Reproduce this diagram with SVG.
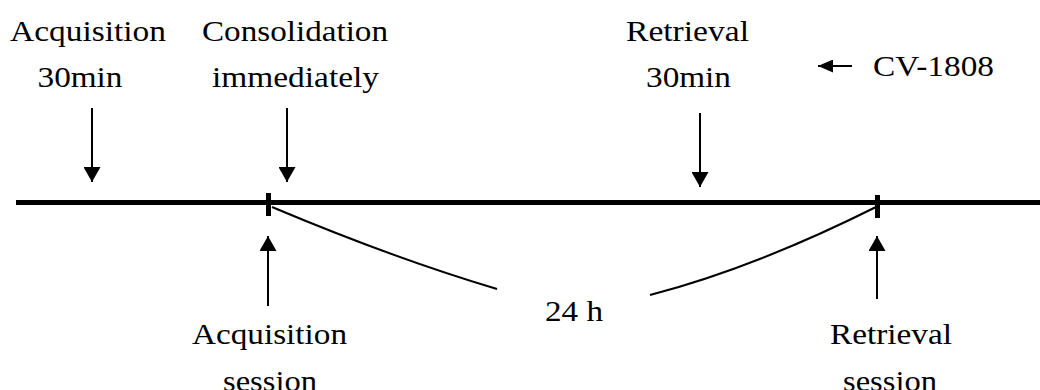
<svg xmlns="http://www.w3.org/2000/svg" width="1040" height="390" viewBox="0 0 1040 390" font-family="Liberation Serif, Times New Roman, DejaVu Serif, serif" font-size="29">
<style>
  .c { text-anchor: middle; }
  .arr { stroke: #000; stroke-width: 2; fill: none; marker-end: url(#ah); }
  .arrs { stroke: #000; stroke-width: 2; fill: none; marker-end: url(#ahs); }
  .curve { stroke: #000; stroke-width: 2; fill: none; }
</style>
<defs>
  <marker id="ah" markerUnits="userSpaceOnUse" markerWidth="15" markerHeight="17" viewBox="0 0 15 17" refX="15" refY="8.5" orient="auto">
    <path d="M0,0 L15,8.5 L0,17 Z" fill="#000"/>
  </marker>
  <marker id="ahs" markerUnits="userSpaceOnUse" markerWidth="15" markerHeight="13" viewBox="0 0 15 13" refX="15" refY="6.5" orient="auto">
    <path d="M0,0 L15,6.5 L0,13 Z" fill="#000"/>
  </marker>
</defs>
<rect width="1040" height="390" fill="#fff"/>

<g id="timeline">
  <line x1="16" y1="202.5" x2="1040" y2="202.5" stroke="#000" stroke-width="5"/>
  <rect x="266" y="193" width="5" height="23" fill="#000"/>
  <rect x="875" y="195" width="5" height="23" fill="#000"/>
</g>

<g id="connectors">
  <line class="arr" x1="92" y1="108" x2="92" y2="182"/>
  <line class="arr" x1="287" y1="108" x2="287" y2="182"/>
  <line class="arr" x1="700" y1="113" x2="700" y2="187"/>
  <line class="arrs" x1="852" y1="66" x2="818" y2="66"/>
  <line class="arr" x1="268" y1="306" x2="268" y2="236"/>
  <line class="arr" x1="877" y1="299" x2="877" y2="236"/>
  <path class="curve" d="M272,207 Q393,258 497,289"/>
  <path class="curve" d="M650,295 Q754,268 876,207"/>
</g>

<g id="acq-top">
  <text class="c" x="88" y="41" textLength="156" lengthAdjust="spacingAndGlyphs">Acquisition</text>
  <text class="c" x="80" y="87" textLength="85" lengthAdjust="spacingAndGlyphs">30min</text>
</g>
<g id="cons-top">
  <text class="c" x="295" y="41" textLength="186" lengthAdjust="spacingAndGlyphs">Consolidation</text>
  <text class="c" x="295.5" y="87" textLength="167" lengthAdjust="spacingAndGlyphs">immediately</text>
</g>
<g id="retr-top">
  <text class="c" x="687.5" y="41" textLength="123" lengthAdjust="spacingAndGlyphs">Retrieval</text>
  <text class="c" x="688.5" y="87" textLength="85" lengthAdjust="spacingAndGlyphs">30min</text>
</g>
<g id="cv1808">
  <text x="873" y="76" textLength="121" lengthAdjust="spacingAndGlyphs">CV-1808</text>
</g>
<g id="interval">
  <text x="545" y="321" textLength="58" lengthAdjust="spacingAndGlyphs">24 h</text>
</g>
<g id="acq-session">
  <text class="c" x="269.5" y="344" textLength="155" lengthAdjust="spacingAndGlyphs">Acquisition</text>
  <text class="c" x="270" y="391" textLength="94" lengthAdjust="spacingAndGlyphs">session</text>
</g>
<g id="retr-session">
  <text class="c" x="891" y="344" textLength="122" lengthAdjust="spacingAndGlyphs">Retrieval</text>
  <text class="c" x="890" y="391" textLength="94" lengthAdjust="spacingAndGlyphs">session</text>
</g>
</svg>
